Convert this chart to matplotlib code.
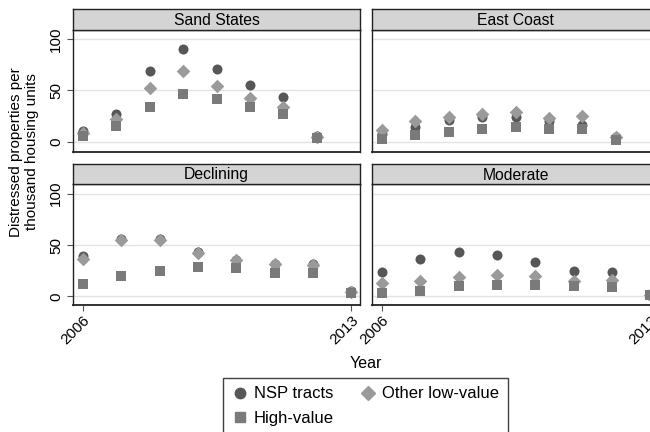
import matplotlib
matplotlib.use("Agg")
import matplotlib.pyplot as plt
from matplotlib.lines import Line2D

plt.rcParams['font.family'] = ['Liberation Sans', 'DejaVu Sans']

years = [2006, 2007, 2008, 2009, 2010, 2011, 2012, 2013]
panels = ["Sand States", "East Coast", "Declining", "Moderate"]
series_names = ["NSP tracts", "Other low-value", "High-value"]

nsp = {
    "Sand States": [11, 27, 69, 90.5, 71, 55.5, 43.5, 5.5],
    "East Coast":  [8, 15, 21, 24, 24.5, 20, 16.5, 4.5],
    "Declining":   [39, 56, 55.5, 43, 35.5, 32, 31.5, 5],
    "Moderate":    [23.5, 36, 43.5, 40.8, 34, 24.3, 24, 1.8],
}
other = {
    "Sand States": [8.5, 22, 52.5, 68.5, 54, 42.5, 33.5, 4.5],
    "East Coast":  [12, 20, 24, 27, 29, 23, 25, 4.5],
    "Declining":   [36.5, 54.5, 55, 42.5, 35, 31.5, 30.5, 4.5],
    "Moderate":    [13, 15, 19, 21, 19.5, 15, 16.5, 1.5],
}
high = {
    "Sand States": [6, 15.5, 34, 46.5, 41.5, 33.5, 27, 4],
    "East Coast":  [3, 7, 9.5, 12.5, 14.5, 12.5, 12.5, 2],
    "Declining":   [12, 19.7, 25, 28.5, 27.5, 23, 23, 3.5],
    "Moderate":    [3.2, 5.2, 10, 11.6, 11, 9.7, 9.4, 1],
}
yticks = [0, 50, 100]
xtick_labels = ["2006", "2013"]

c_nsp = "#575757"
c_other = "#9a9a9a"
c_high = "#7a7a7a"

W, H = 650, 432
fig = plt.figure(figsize=(6.5, 4.32), dpi=100)

def rect(x0, ytop, w, h):
    return [x0 / W, 1 - (ytop + h) / H, w / W, h / H]

layout = {
    "Sand States": (73, 30, 122, 9),
    "East Coast": (372, 30, 122, 9),
    "Declining": (73, 184, 121, 164),
    "Moderate": (372, 184, 121, 164),
}
pw = 287
for name in panels:
    x0, ytop, h, stop = layout[name]
    top_row = name in ("Sand States", "East Coast")
    ax = fig.add_axes(rect(x0, ytop, pw, h))
    for y in yticks:
        ax.axhline(y, color="#e3e3e3", lw=1.0, zorder=0)
    ax.scatter(years, nsp[name], marker="o", s=52, color=c_nsp, lw=0, zorder=3)
    ax.scatter(years, other[name], marker="D", s=48, color=c_other, lw=0, zorder=4)
    ax.scatter(years, high[name], marker="s", s=52, color=c_high, lw=0, zorder=5)
    if top_row:
        ax.set_xlim(2005.70, 2014.29)
        ax.set_ylim(-9.7, 108.7)
        ax.set_xticks([])
    else:
        ax.set_xlim(2005.74, 2013.23)
        ax.set_ylim(-8.3, 109.4)
        ax.set_xticks([years[0], years[-1]])
        ax.set_xticklabels(xtick_labels, rotation=45, ha="right",
                           rotation_mode="anchor", fontsize=11)
        ax.tick_params(axis="x", length=4, width=0.8, color="#555555", pad=2)
    if x0 == 73:
        ax.set_yticks(yticks)
        ax.set_yticklabels([str(v) for v in yticks], rotation=90, va="center", fontsize=11)
        ax.tick_params(axis="y", length=4, width=0.8, color="#555555", pad=3)
    else:
        ax.set_yticks([])
    for s in ax.spines.values():
        s.set_color("#222222")
        s.set_linewidth(1.0)
    ax.spines["bottom"].set_linewidth(1.3)
    # strip
    sax = fig.add_axes(rect(x0, stop, pw, ytop - stop))
    sax.set_facecolor("#d4d4d4")
    sax.set_xticks([]); sax.set_yticks([])
    for s in sax.spines.values():
        s.set_color("#222222")
        s.set_linewidth(1.0)
    sax.text(0.5, 0.45, name, ha="center", va="center", fontsize=11.3,
             transform=sax.transAxes)

fig.text(24 / W, 1 - 152 / H, "Distressed properties per\nthousand housing units",
         rotation=90, ha="center", va="center", fontsize=11, linespacing=1.25)
fig.text(366 / W, 1 - 364 / H, "Year", ha="center", va="center", fontsize=11.5)

handles = [
    Line2D([], [], marker="o", ls="", color=c_nsp, markersize=7.5, label=series_names[0]),
    Line2D([], [], marker="s", ls="", color=c_high, markersize=7.5, label=series_names[2]),
    Line2D([], [], marker="D", ls="", color=c_other, markersize=7, label=series_names[1]),
]
leg = fig.legend(handles=handles, ncol=2, loc="upper left",
                 bbox_to_anchor=(223 / W, 1 - 378 / H), frameon=True,
                 fancybox=False, edgecolor="#111111", fontsize=12,
                 handletextpad=0.35, columnspacing=1.55, handlelength=1.0,
                 borderpad=0.5, labelspacing=0.55, borderaxespad=0)
leg.get_frame().set_linewidth(1.0)

fig.savefig("out.png", dpi=100)
